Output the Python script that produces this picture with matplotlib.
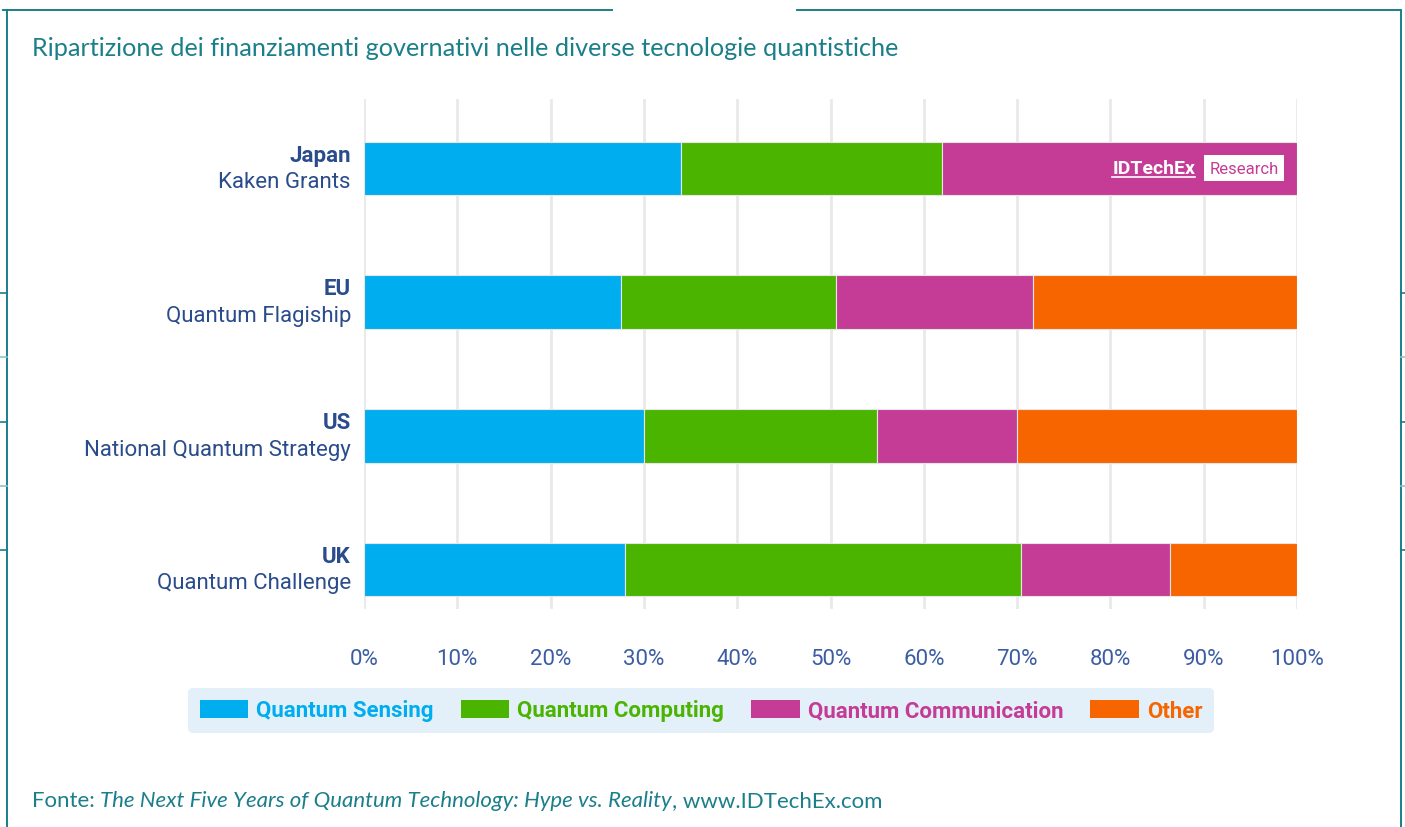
import matplotlib.pyplot as plt
from matplotlib.lines import Line2D
from matplotlib.patches import Patch

# data (percent of funding)
programs = ['UK', 'US', 'EU', 'Japan']
subtitles = ['Quantum Challenge', 'National Quantum Strategy', 'Quantum Flagiship', 'Kaken Grants']
series = ['Quantum Sensing', 'Quantum Computing', 'Quantum Communication', 'Other']
sensing = [28, 30, 27.5, 34]
computing = [42.4, 25, 23.1, 28]
communication = [16, 15, 21.1, 38]
other = [13.6, 30, 28.3, 0]
ticks = [0, 10, 20, 30, 40, 50, 60, 70, 80, 90, 100]

colors = ['#00aeef', '#4bb400', '#c43c95', '#f76500']
teal = '#1b7f8b'
label_col = '#2b4c8c'
tick_col = '#3c5da3'

W, H = 1405, 828
fig = plt.figure(figsize=(W / 100, H / 100), dpi=100)
fig.patch.set_facecolor('white')

def fx(px):
    return px / W

def fy(py):
    return 1 - py / H

# page frame lines
def fline(x0, y0, x1, y1, col=teal, lw=1.4):
    fig.add_artist(Line2D([fx(x0), fx(x1)], [fy(y0), fy(y1)], color=col, lw=lw,
                          transform=fig.transFigure))

fline(3, 11, 612, 11)
fline(797, 11, 1400, 11)
fline(7, 11, 7, 828)
fline(1401, 11, 1401, 828)
for i, yy in enumerate([294, 358, 423, 487, 551]):
    c = teal if i % 2 == 0 else '#8cc3c8'
    fline(0, yy, 7, yy, c, 1.2)
    fline(1401, yy, 1405, yy, c, 1.2)

fig.text(fx(32), fy(48), 'Ripartizione dei finanziamenti governativi nelle diverse tecnologie quantistiche',
         color=teal, fontsize=18.2, family=['Lato', 'DejaVu Sans'],
         va='center', ha='left')

ax = fig.add_axes([fx(364), fy(610), fx(1297) - fx(364), fy(100) - fy(610)])
ypos = list(range(len(programs)))
left = [0] * len(programs)
for vals, col, name in zip([sensing, computing, communication, other], colors, series):
    for y, v, l in zip(ypos, vals, left):
        if v > 0:
            ax.barh(y, v, left=l, height=0.4, color=col, edgecolor='#e6e6e6', linewidth=0.8, zorder=3)
    left = [l + v for l, v in zip(left, vals)]

ax.set_xlim(0, 100)
ax.set_ylim(-0.296, 3.52)
ax.set_xticks(ticks)
ax.set_xticklabels([f'{t}%' for t in ticks], color=tick_col, fontsize=16, family='Roboto')
ax.tick_params(axis='x', length=0, pad=28)
ax.set_yticks([])
ax.grid(axis='x', color='#e9e9e9', lw=2, zorder=0)
for s in ax.spines.values():
    s.set_visible(False)

for y, p, sub in zip(ypos, programs, subtitles):
    ax.text(-1.4, y + 0.103, p, ha='right', va='center', fontsize=16, fontweight='bold',
            family='Roboto', color=label_col)
    ax.text(-1.4, y - 0.1, sub, ha='right', va='center', fontsize=16,
            family='Roboto', color=label_col)

# watermark
wm = ax.text(80.2, 3.0, 'IDTechEx', color='white', fontsize=14, fontweight='bold',
             family='Roboto', ha='left', va='center', zorder=5)
ax.text(90.6, 3.0, 'Research', color='#c43c95', fontsize=12, family='Roboto',
        ha='left', va='center', zorder=5,
        bbox=dict(facecolor='white', edgecolor='none', pad=4))

handles = [Patch(facecolor=c, label=n) for c, n in zip(colors, series)]
leg = ax.legend(handles=handles, loc='center', bbox_to_anchor=(fx(701), fy(711.5)),
                bbox_transform=fig.transFigure, ncol=4, frameon=True, fancybox=True,
                facecolor='#e3f0f9', edgecolor='none', framealpha=1,
                handlelength=2.2, handleheight=0.9, handletextpad=0.36, columnspacing=1.2,
                borderpad=0.5, prop=dict(family='Roboto', weight='bold', size=16))
for t, c in zip(leg.get_texts(), colors):
    t.set_color(c)

# footer with italic title
fig.canvas.draw()
r = fig.canvas.get_renderer()
x = fx(32)
for part, style in [('Fonte: ', 'normal'),
                    ('The Next Five Years of Quantum Technology: Hype vs. Reality', 'italic'),
                    (', www.IDTechEx.com', 'normal')]:
    t = fig.text(x, fy(801), part, color=teal, fontsize=16, style=style,
                 family=['Lato', 'DejaVu Sans'], va='center', ha='left')
    x = t.get_window_extent(r).x1 / W

# underline for watermark
bb = wm.get_window_extent(r)
fig.add_artist(Line2D([bb.x0 / W, bb.x1 / W], [bb.y0 / H, bb.y0 / H], color='white', lw=1.2,
                      transform=fig.transFigure, zorder=6))

fig.savefig('out.png', dpi=100)
